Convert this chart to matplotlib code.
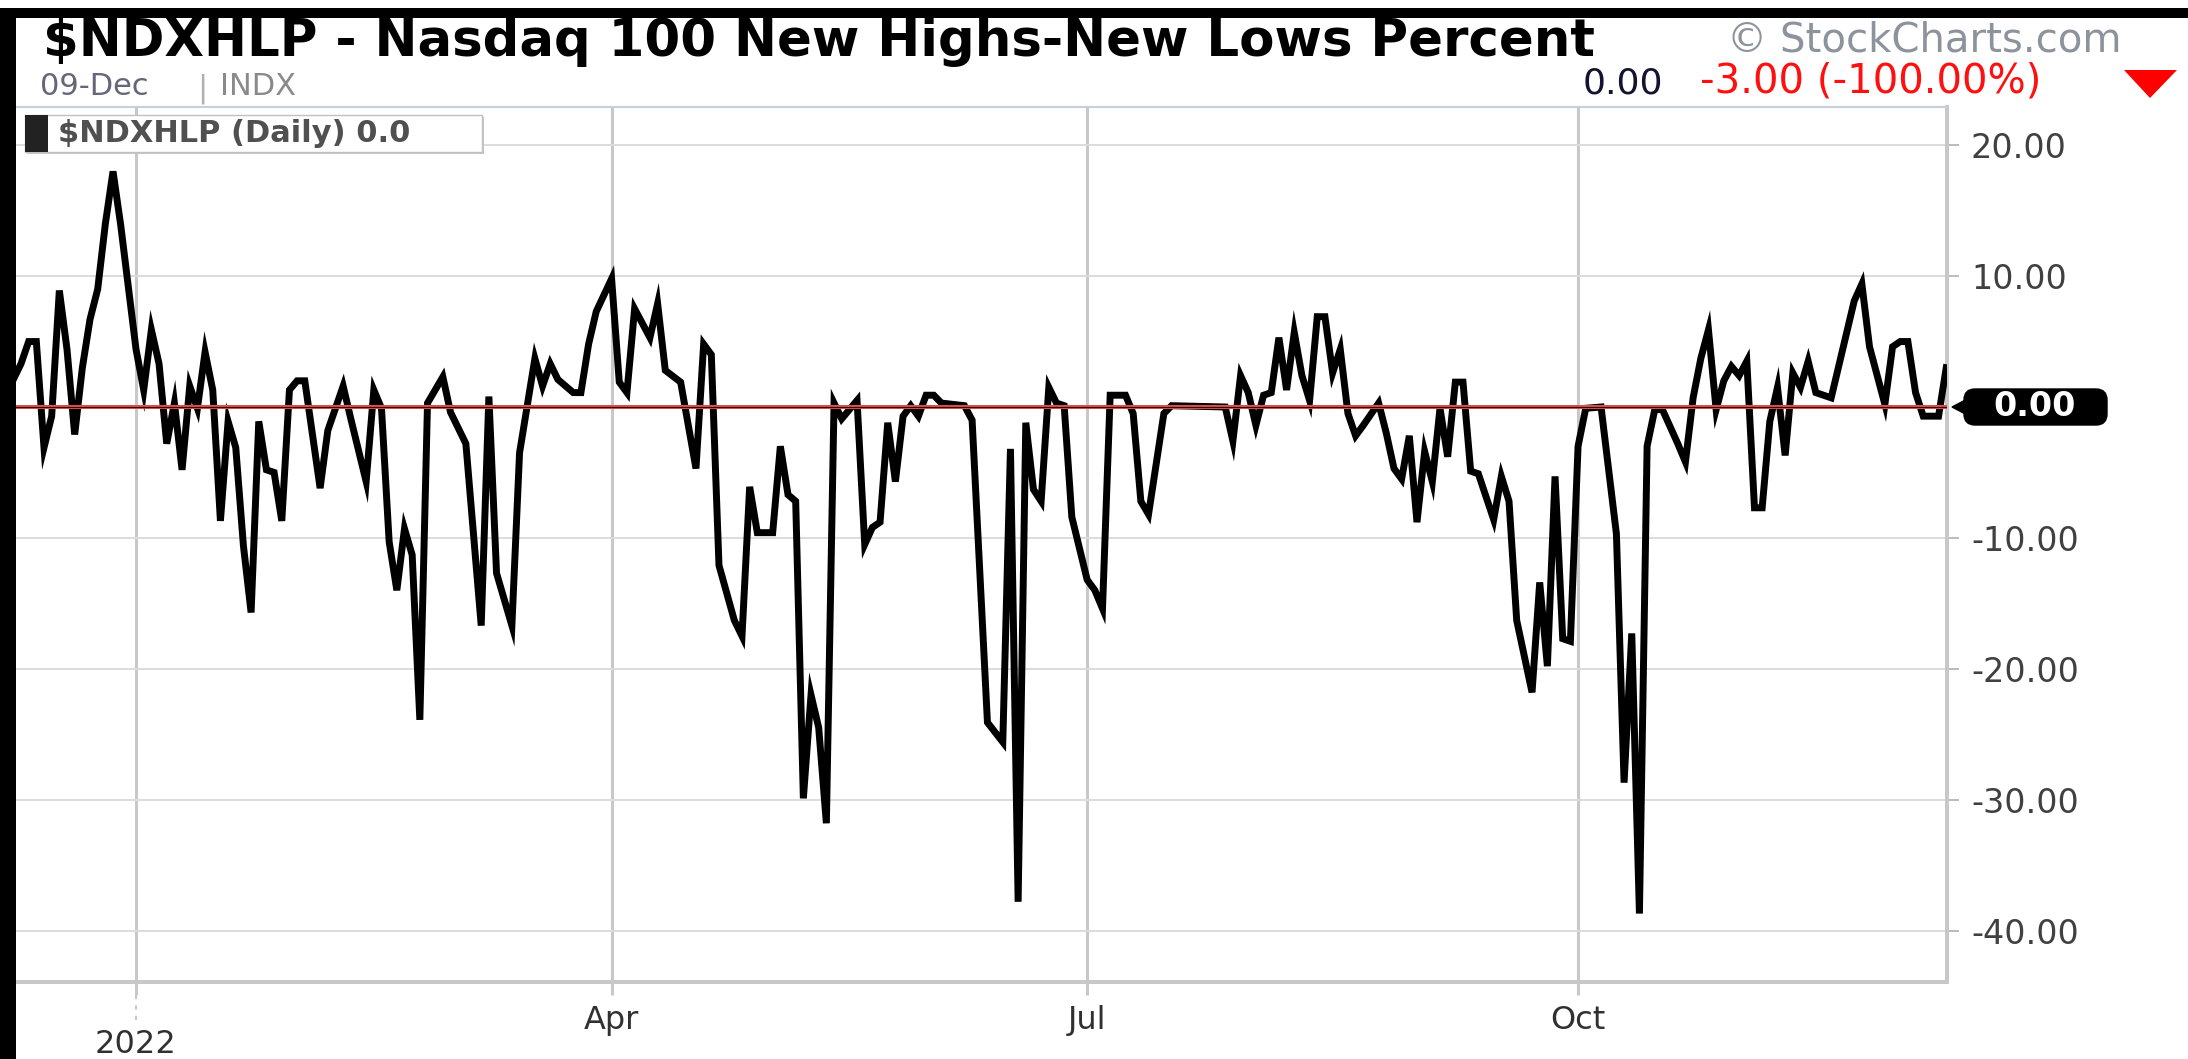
import matplotlib
matplotlib.use("Agg")
import matplotlib.pyplot as plt
import matplotlib.transforms as mtransforms
from matplotlib.patches import Rectangle, Polygon, FancyBboxPatch
import pandas as pd

# ---------------- data ----------------
# NYSE trading calendar for the 1-year window shown
start_date = "2021-12-09"
end_date = "2022-12-09"
market_holidays = ["2021-12-24", "2022-01-17", "2022-02-21", "2022-04-15",
                   "2022-05-30", "2022-06-20", "2022-07-04", "2022-09-05",
                   "2022-11-24"]

# trading-session number (0 = 2021-12-09) of each turning point
session = [0, 1, 2, 3, 4, 5, 6, 7, 8, 9, 10, 11, 12, 13, 14, 16, 17, 18, 19, 20,
           21, 22, 23, 24, 25, 26, 27, 28, 29, 30, 31, 32, 33, 34, 35, 36, 37, 38,
           40, 41, 43, 44, 46, 47, 48, 49, 50, 51, 52, 53, 54, 56, 57, 59, 61, 62,
           63, 65, 66, 68, 69, 70, 71, 73, 74, 75, 76, 78, 79, 80, 81, 83, 84, 85,
           87, 89, 90, 91, 92, 93, 94, 95, 96, 97, 99, 100, 101, 102, 103, 104,
           105, 106, 107, 108, 110, 111, 112, 113, 114, 115, 116, 117, 118, 119,
           120, 121, 124, 125, 127, 129, 130, 131, 132, 133, 134, 135, 136, 137,
           138, 140, 141, 142, 143, 145, 146, 147, 148, 150, 151, 158, 159, 160,
           161, 162, 163, 164, 165, 166, 167, 168, 169, 170, 171, 172, 173, 174,
           175, 176, 178, 179, 180, 181, 182, 183, 184, 185, 186, 187, 188, 189,
           190, 191, 193, 194, 195, 196, 198, 199, 200, 201, 202, 203, 204, 205,
           207, 209, 210, 211, 212, 213, 214, 215, 217, 218, 219, 220, 221, 222,
           223, 224, 225, 226, 227, 228, 229, 230, 231, 232, 233, 234, 235, 237,
           240, 241, 242, 244, 245, 246, 247, 248, 249, 251, 252]
pct = [2.1, 3.3, 5.0, 5.0, -3.1, -0.7, 8.9, 4.4, -2.1, 3.0, 6.7, 9.0, 14.0, 18.0,
       13.9, 4.4, 1.3, 5.9, 3.3, -2.8, 0.3, -4.8, 1.6, -0.1, 4.2, 1.3, -8.7, -1.1,
       -3.1, -10.6, -15.7, -1.1, -4.8, -5.0, -8.7, 1.3, 2.0, 2.0, -6.2, -1.8, 1.6,
       -0.9, -5.7, 1.3, -0.1, -10.3, -14.0, -9.3, -11.3, -23.9, 0.3, 2.3, -0.4,
       -2.8, -16.7, 0.8, -12.7, -16.7, -3.5, 3.7, 1.6, 3.3, 2.1, 1.1, 1.1, 4.8,
       7.3, 9.8, 1.9, 1.1, 7.5, 5.3, 7.9, 2.8, 1.9, -4.7, 4.8, 4.0, -12.1, -14.2,
       -16.3, -17.5, -6.1, -9.6, -9.6, -3.0, -6.7, -7.2, -29.9, -22.0, -24.5,
       -31.8, 0.3, -0.9, 0.5, -10.5, -9.2, -8.8, -1.2, -5.7, -0.7, 0.1, -0.7, 0.9,
       0.9, 0.3, 0.1, -1.0, -24.1, -25.6, -3.2, -37.8, -1.2, -6.3, -7.2, 1.5, 0.3,
       0.1, -8.4, -13.2, -14.0, -15.4, 0.9, 0.9, -0.5, -7.2, -8.2, -0.5, 0.1, 0.0,
       -2.6, 2.4, 1.1, -1.4, 0.9, 1.1, 5.3, 1.3, 5.7, 2.4, 0.5, 6.9, 6.9, 2.6, 4.4,
       -0.5, -2.2, -1.4, 0.3, -2.0, -4.7, -5.5, -2.2, -8.8, -3.4, -5.7, -0.1, -3.8,
       1.9, 1.9, -4.9, -5.1, -8.6, -5.3, -7.2, -16.3, -21.8, -13.4, -19.8, -5.3,
       -17.7, -17.9, -3.0, -0.1, 0.0, -9.7, -28.7, -17.3, -38.7, -3.0, -0.2, -0.2,
       -2.8, -4.2, 0.7, 3.7, 5.9, -0.2, 2.0, 3.1, 2.4, 3.5, -7.7, -7.7, -1.1, 1.5,
       -3.7, 2.6, 1.5, 3.5, 1.1, 0.7, 8.1, 9.4, 4.6, 0.2, 4.6, 5.0, 5.0, 1.1, -0.7,
       -0.7, 3.0]

y_ticks = [-40, -30, -20, -10, 10, 20]
y_tick_labels = ["-40.00", "-30.00", "-20.00", "-10.00", "10.00", "20.00"]
month_ticks = ["2022-01", "2022-04", "2022-07", "2022-10"]
month_labels = ["", "Apr", "Jul", "Oct"]
year_label = "2022"

title = "$NDXHLP - Nasdaq 100 New Highs-New Lows Percent"
date_text = "09-Dec"
exchange_text = "INDX"
last_value = "0.00"
change_text = "-3.00 (-100.00%)"
legend_text = "$NDXHLP (Daily) 0.0"
tag_text = "0.00"
credit = "\u00a9 StockCharts.com"

# ---------------- figure ----------------
W, H = 2188, 1059
plt.rcParams["font.family"] = ["DejaVu Sans"]
fig = plt.figure(figsize=(W / 100, H / 100), dpi=100)
fig.patch.set_facecolor("white")
ident = mtransforms.IdentityTransform()


def fx(px):
    return px / W


def fy(py):
    return 1 - py / H


sessions = pd.bdate_range(start_date, end_date, freq="C", holidays=market_holidays)
tick_pos = [int(sessions.searchsorted(pd.Timestamp(m + "-01"))) for m in month_ticks]

ax_left, ax_right, ax_top, ax_bottom = 16, 1947, 107, 982
ax = fig.add_axes([fx(ax_left), fy(ax_bottom), (ax_right - ax_left) / W,
                   (ax_bottom - ax_top) / H])
ax.set_facecolor("white")

ax.plot(session, pct, color="black", lw=5.0, solid_joinstyle="miter",
        zorder=3)
ax.axhline(0, color="#d85050", lw=2.9, zorder=4)
ax.axhline(0, color="#3a0000", lw=0.8, zorder=4.1)

ax.set_xlim(0.35, 252.1)
ax.set_ylim(-43.93, 22.92)

ax.set_axisbelow(True)
ax.set_yticks(y_ticks)
ax.set_yticklabels(y_tick_labels)
ax.yaxis.tick_right()
ax.tick_params(axis="y", length=8.6, width=1.1, color="#a8a8a8", pad=8.6,
               labelsize=24, labelcolor="#404040")
ax.grid(axis="y", color="#dcdcdc", lw=1.4)

ax.set_xticks(tick_pos)
ax.set_xticklabels(month_labels)
ax.tick_params(axis="x", length=9.4, width=2.2, color="#c8c8c8", pad=7.0,
               labelsize=23, labelcolor="#303030")
ax.grid(axis="x", color="#c8c8c8", lw=2.2)

ax.spines["left"].set_visible(False)
ax.spines["top"].set_color("#c5d0da")
ax.spines["top"].set_linewidth(1.5)
for s in ("bottom", "right"):
    ax.spines[s].set_color("#c8c8c8")
    ax.spines[s].set_linewidth(2.9)

# year label and dotted separator under the January tick
blend = mtransforms.blended_transform_factory(ax.transData, ax.transAxes)
ax.plot([tick_pos[0], tick_pos[0]], [-13 / 875, -44 / 875], transform=blend,
        color="#c8c8c8", lw=1.5, ls=(0, (2, 3)), clip_on=False)
ax.text(tick_pos[0], -47 / 875, year_label, transform=blend, ha="center",
        va="top", fontsize=23, color="#303030")

# value tag on the right axis
x_axis = ax.transAxes.transform((1, 0))[0]
y0 = ax.transData.transform((0, 0))[1]
fig.add_artist(Polygon([(x_axis + 5, y0), (x_axis + 26, y0 + 11),
                        (x_axis + 26, y0 - 11)], closed=True, fc="black",
                       ec="black", transform=ident))
fig.add_artist(FancyBboxPatch((x_axis + 17, y0 - 18), 143, 36,
                              boxstyle="round,pad=0,rounding_size=11",
                              fc="black", ec="black", transform=ident))
fig.text(x_axis + 88, y0, tag_text, transform=ident, ha="center", va="center",
         fontsize=24, fontweight="bold", color="white")

# ---------------- header decorations ----------------
fig.add_artist(Rectangle((0, fy(18)), 1, 10 / H, transform=fig.transFigure,
                         fc="black", ec="none"))
fig.add_artist(Rectangle((0, 0), fx(16), fy(8), transform=fig.transFigure,
                         fc="black", ec="none"))

fig.text(fx(43), fy(56), title, fontsize=37, fontweight="bold", color="black",
         ha="left", va="baseline")
fig.text(fx(40), fy(95), date_text, fontsize=22, color="#66667a",
         ha="left", va="baseline")
fig.text(fx(202), fy(97), "|", fontsize=22, color="#b0b0b0",
         ha="center", va="baseline")
fig.text(fx(220), fy(95), exchange_text, fontsize=22, color="#8a8a8a",
         ha="left", va="baseline")
fig.text(fx(1727), fy(51), credit, fontsize=29, color="#8c939c",
         ha="left", va="baseline")
fig.text(fx(1663), fy(93), last_value, fontsize=26, color="#141432",
         ha="right", va="baseline")
fig.text(fx(1700), fy(93), change_text, fontsize=29, color="#ff1010",
         ha="left", va="baseline")
fig.add_artist(Polygon([(fx(2124), fy(70)), (fx(2177), fy(70)), (fx(2150), fy(98))],
                       closed=True, transform=fig.transFigure, fc="#ff0000",
                       ec="none"))

# legend box
fig.add_artist(Rectangle((fx(27), fy(154)), (482 - 25) / W, (152 - 115) / H,
                         transform=fig.transFigure, fc="#c8c8c8", ec="none",
                         zorder=5))
fig.add_artist(Rectangle((fx(25), fy(152)), (482 - 25) / W, (152 - 115) / H,
                         transform=fig.transFigure, fc="white", ec="#c0c0c0",
                         lw=1, zorder=6))
fig.add_artist(Rectangle((fx(25), fy(152)), 23 / W, (152 - 115) / H,
                         transform=fig.transFigure, fc="#222222", ec="none",
                         zorder=7))
fig.text(fx(58), fy(134), legend_text, fontsize=22, fontweight="bold",
         color="#505050", ha="left", va="center", zorder=8)

fig.savefig("out.png", dpi=100)
